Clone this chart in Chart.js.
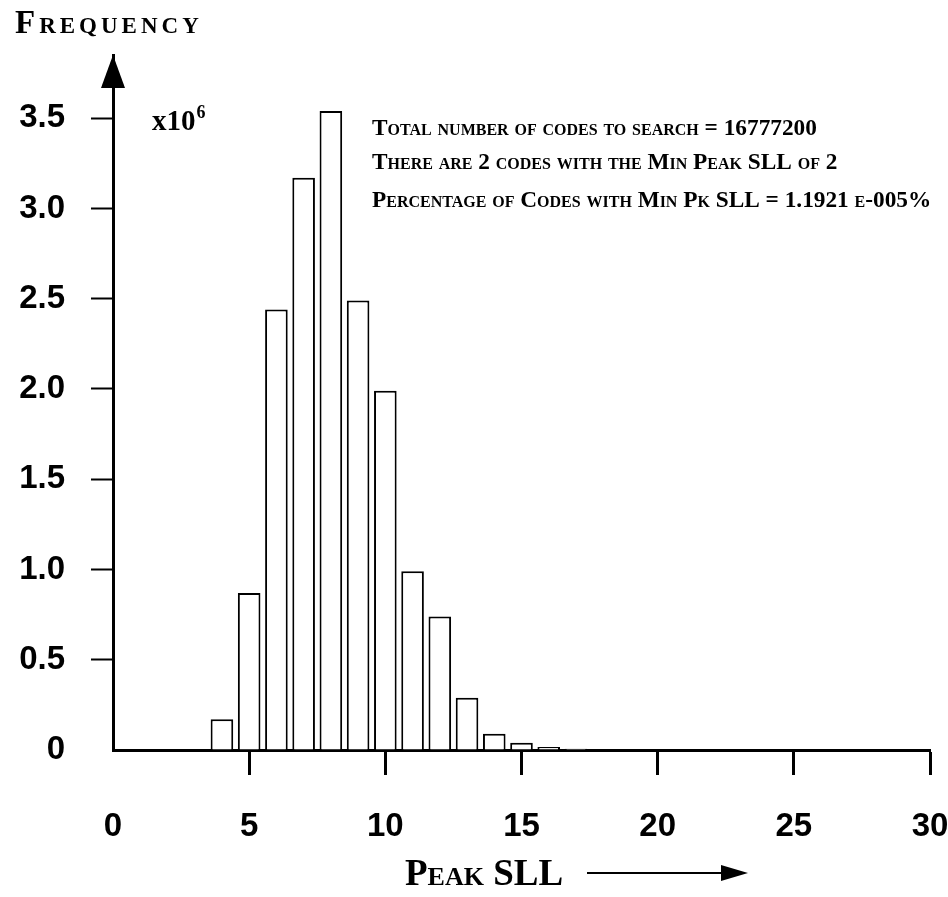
<!DOCTYPE html>
<html><head><meta charset="utf-8">
<script src="https://cdn.jsdelivr.net/npm/chart.js@4"></script>
<style>html,body{margin:0;padding:0;background:#fff}#wrap{width:948px;height:897px;position:relative}</style>
</head><body><div id="wrap"><canvas id="c"></canvas></div>
<script>
const peakSLL = [4, 5, 6, 7, 8, 9, 10, 11, 12, 13, 14, 15, 16, 17];
const frequencyMillions = [0.17, 0.87, 2.44, 3.17, 3.54, 2.49, 1.99, 0.99, 0.74, 0.29, 0.09, 0.04, 0.017, 0.007];
const xTickValues = [0, 5, 10, 15, 20, 25, 30];
const yTickValues = [0, 0.5, 1.0, 1.5, 2.0, 2.5, 3.0, 3.5];
const yAxisTitle = 'Frequency';
const xAxisTitle = 'Peak SLL';
const multiplierBase = 'x10';
const multiplierExp = '6';
const noteLines = [
  'Total number of codes to search = 16777200',
  'There are 2 codes with the Min Peak SLL of 2',
  'Percentage of Codes with Min Pk SLL = 1.1921 e-005%'
];

const SERIF = '"Liberation Serif", "Times New Roman", serif';
const SANS = '"Liberation Sans", Arial, sans-serif';

const decor = {
  id: 'decor',
  afterDraw(chart) {
    const ctx = chart.ctx, a = chart.chartArea;
    ctx.save();
    ctx.fillStyle = '#000';
    ctx.strokeStyle = '#000';
    // y axis arrow head
    ctx.beginPath();
    ctx.moveTo(a.left, a.top);
    ctx.lineTo(a.left - 12, a.top + 33);
    ctx.lineTo(a.left + 12, a.top + 33);
    ctx.closePath();
    ctx.fill();

    function sc(text, x, y, size, spacing) {
      ctx.font = 'small-caps bold ' + size + 'px ' + SERIF;
      try { ctx.fontVariantCaps = 'small-caps'; } catch (e) {}
      try { ctx.letterSpacing = (spacing || 0) + 'px'; } catch (e) {}
      ctx.textAlign = 'left';
      ctx.textBaseline = 'alphabetic';
      ctx.fillText(text, x, y);
      try { ctx.letterSpacing = '0px'; } catch (e) {}
    }
    sc(yAxisTitle, 15, 33, 33, 4);

    // multiplier
    ctx.font = 'bold 29px ' + SERIF;
    try { ctx.fontVariantCaps = 'normal'; } catch (e) {}
    ctx.textAlign = 'left';
    ctx.fillText(multiplierBase, 152, 130);
    const w = ctx.measureText(multiplierBase).width;
    ctx.font = 'bold 18px ' + SERIF;
    ctx.fillText(multiplierExp, 152 + w + 1, 118);

    // notes
    const baselines = [135, 169, 207];
    noteLines.forEach((t, i) => sc(t, 372, baselines[i], 23.3, 0));

    // x title + arrow
    sc(xAxisTitle, 405, 885, 37, 0);
    ctx.lineWidth = 2;
    ctx.beginPath();
    ctx.moveTo(587, 873);
    ctx.lineTo(726, 873);
    ctx.stroke();
    ctx.beginPath();
    ctx.moveTo(748, 873);
    ctx.lineTo(721, 865);
    ctx.lineTo(721, 881);
    ctx.closePath();
    ctx.fill();
    ctx.restore();
  }
};

const hideZero = c => (c.tick && c.tick.value === 0) ? 'rgba(0,0,0,0)' : '#000';

new Chart(document.getElementById('c'), {
  type: 'bar',
  data: {
    datasets: [{
      data: peakSLL.map((x, i) => ({ x: x, y: frequencyMillions[i] })),
      backgroundColor: '#fff',
      borderColor: '#000',
      borderWidth: 2,
      barPercentage: 0.83,
      categoryPercentage: 1
    }]
  },
  options: {
    responsive: true,
    maintainAspectRatio: false,
    animation: false,
    layout: { padding: { top: 55, left: 0, right: 18, bottom: 0 } },
    plugins: { legend: { display: false }, tooltip: { enabled: false } },
    scales: {
      x: {
        type: 'linear',
        min: 0, max: 30,
        offset: false,
        z: 1,
        grid: { offset: false, drawOnChartArea: false, tickLength: 25, tickWidth: 3, tickColor: hideZero },
        border: { color: '#000', width: 3 },
        afterBuildTicks: s => { s.ticks = xTickValues.map(v => ({ value: v })); },
        afterFit: s => { s.height = 147; s.paddingLeft = 0; s.paddingRight = 0; },
        ticks: {
          color: '#000', padding: 32, maxRotation: 0, autoSkip: false,
          font: { family: SANS, size: 33, weight: 'bold' }
        }
      },
      y: {
        min: 0, max: 3.85,
        z: 1,
        grid: { drawOnChartArea: false, tickLength: 22, tickWidth: 2, tickColor: hideZero },
        border: { color: '#000', width: 3 },
        afterBuildTicks: s => { s.ticks = yTickValues.map(v => ({ value: v })); },
        afterFit: s => { s.width = 113; },
        ticks: {
          color: '#000', padding: 26,
          font: { family: SANS, size: 33, weight: 'bold' },
          callback: v => v === 0 ? '0' : v.toFixed(1)
        }
      }
    }
  },
  plugins: [decor]
});
</script>
</body></html>
